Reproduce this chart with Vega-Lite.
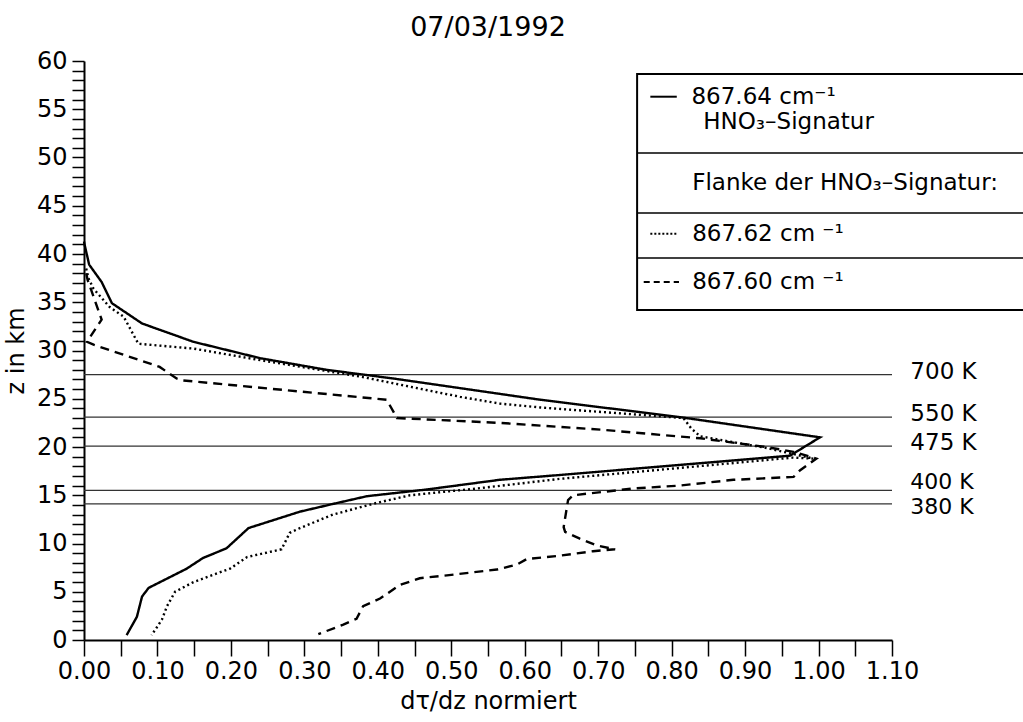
{
  "$schema": "https://vega.github.io/schema/vega-lite/v6.json",
  "width": 808,
  "height": 579,
  "autosize": {"type": "none"},
  "padding": {"left": 84, "top": 61, "right": 131, "bottom": 82},
  "background": "white",
  "title": {"text": "07/03/1992", "font": "DejaVu Sans", "fontSize": 27, "fontWeight": "normal", "color": "black", "offset": 7, "anchor": "middle"},
  "config": {
    "view": {"stroke": null},
    "font": "DejaVu Sans",
    "axis": {"grid": false, "domainColor": "black", "domainWidth": 2, "tickColor": "black", "tickWidth": 1.5, "labelColor": "black", "labelFont": "DejaVu Sans", "labelFontSize": 24, "titleFont": "DejaVu Sans", "titleFontSize": 24, "titleFontWeight": "normal", "titleColor": "black", "labelOverlap": false, "labelFlush": false}
  },
  "datasets": {
    "profiles": [
      {"series": "867.64", "v": 0.000, "z": 41.3},
      {"series": "867.64", "v": 0.001, "z": 40.9},
      {"series": "867.64", "v": 0.007, "z": 38.9},
      {"series": "867.64", "v": 0.024, "z": 37.1},
      {"series": "867.64", "v": 0.038, "z": 34.9},
      {"series": "867.64", "v": 0.079, "z": 32.8},
      {"series": "867.64", "v": 0.149, "z": 30.9},
      {"series": "867.64", "v": 0.240, "z": 29.2},
      {"series": "867.64", "v": 0.330, "z": 28.0},
      {"series": "867.64", "v": 0.421, "z": 27.1},
      {"series": "867.64", "v": 0.512, "z": 26.1},
      {"series": "867.64", "v": 0.621, "z": 24.9},
      {"series": "867.64", "v": 0.811, "z": 23.1},
      {"series": "867.64", "v": 1.002, "z": 21.0},
      {"series": "867.64", "v": 0.961, "z": 19.1},
      {"series": "867.64", "v": 0.648, "z": 17.1},
      {"series": "867.64", "v": 0.566, "z": 16.6},
      {"series": "867.64", "v": 0.467, "z": 15.6},
      {"series": "867.64", "v": 0.385, "z": 14.9},
      {"series": "867.64", "v": 0.339, "z": 14.1},
      {"series": "867.64", "v": 0.294, "z": 13.3},
      {"series": "867.64", "v": 0.224, "z": 11.6},
      {"series": "867.64", "v": 0.194, "z": 9.5},
      {"series": "867.64", "v": 0.162, "z": 8.5},
      {"series": "867.64", "v": 0.140, "z": 7.4},
      {"series": "867.64", "v": 0.088, "z": 5.4},
      {"series": "867.64", "v": 0.079, "z": 4.5},
      {"series": "867.64", "v": 0.072, "z": 2.4},
      {"series": "867.64", "v": 0.058, "z": 0.5},
      {"series": "867.62", "v": 0.003, "z": 38.5},
      {"series": "867.62", "v": 0.006, "z": 37.5},
      {"series": "867.62", "v": 0.013, "z": 36.4},
      {"series": "867.62", "v": 0.035, "z": 34.5},
      {"series": "867.62", "v": 0.054, "z": 33.5},
      {"series": "867.62", "v": 0.074, "z": 30.7},
      {"series": "867.62", "v": 0.149, "z": 30.2},
      {"series": "867.62", "v": 0.240, "z": 29.0},
      {"series": "867.62", "v": 0.376, "z": 27.3},
      {"series": "867.62", "v": 0.512, "z": 25.2},
      {"series": "867.62", "v": 0.566, "z": 24.5},
      {"series": "867.62", "v": 0.621, "z": 24.1},
      {"series": "867.62", "v": 0.816, "z": 23.0},
      {"series": "867.62", "v": 0.827, "z": 21.9},
      {"series": "867.62", "v": 0.839, "z": 21.1},
      {"series": "867.62", "v": 0.929, "z": 19.9},
      {"series": "867.62", "v": 0.993, "z": 18.8},
      {"series": "867.62", "v": 0.965, "z": 18.9},
      {"series": "867.62", "v": 0.648, "z": 16.7},
      {"series": "867.62", "v": 0.535, "z": 15.7},
      {"series": "867.62", "v": 0.444, "z": 15.0},
      {"series": "867.62", "v": 0.398, "z": 14.2},
      {"series": "867.62", "v": 0.339, "z": 13.0},
      {"series": "867.62", "v": 0.294, "z": 11.6},
      {"series": "867.62", "v": 0.280, "z": 11.1},
      {"series": "867.62", "v": 0.269, "z": 9.4},
      {"series": "867.62", "v": 0.222, "z": 8.6},
      {"series": "867.62", "v": 0.199, "z": 7.4},
      {"series": "867.62", "v": 0.149, "z": 6.0},
      {"series": "867.62", "v": 0.124, "z": 5.0},
      {"series": "867.62", "v": 0.113, "z": 3.5},
      {"series": "867.62", "v": 0.106, "z": 2.1},
      {"series": "867.62", "v": 0.092, "z": 0.5},
      {"series": "867.60", "v": 0.003, "z": 38.0},
      {"series": "867.60", "v": 0.005, "z": 37.3},
      {"series": "867.60", "v": 0.024, "z": 33.2},
      {"series": "867.60", "v": 0.004, "z": 30.9},
      {"series": "867.60", "v": 0.013, "z": 30.6},
      {"series": "867.60", "v": 0.103, "z": 28.3},
      {"series": "867.60", "v": 0.126, "z": 27.1},
      {"series": "867.60", "v": 0.135, "z": 26.9},
      {"series": "867.60", "v": 0.412, "z": 24.9},
      {"series": "867.60", "v": 0.421, "z": 23.7},
      {"series": "867.60", "v": 0.426, "z": 23.0},
      {"series": "867.60", "v": 0.566, "z": 22.5},
      {"series": "867.60", "v": 0.703, "z": 21.8},
      {"series": "867.60", "v": 0.839, "z": 20.9},
      {"series": "867.60", "v": 0.929, "z": 20.0},
      {"series": "867.60", "v": 0.966, "z": 19.5},
      {"series": "867.60", "v": 0.997, "z": 18.8},
      {"series": "867.60", "v": 0.975, "z": 17.6},
      {"series": "867.60", "v": 0.966, "z": 16.9},
      {"series": "867.60", "v": 0.884, "z": 16.6},
      {"series": "867.60", "v": 0.811, "z": 16.0},
      {"series": "867.60", "v": 0.748, "z": 15.7},
      {"series": "867.60", "v": 0.666, "z": 15.0},
      {"series": "867.60", "v": 0.659, "z": 14.5},
      {"series": "867.60", "v": 0.653, "z": 11.7},
      {"series": "867.60", "v": 0.655, "z": 11.2},
      {"series": "867.60", "v": 0.675, "z": 10.5},
      {"series": "867.60", "v": 0.698, "z": 9.8},
      {"series": "867.60", "v": 0.723, "z": 9.4},
      {"series": "867.60", "v": 0.693, "z": 9.2},
      {"series": "867.60", "v": 0.644, "z": 8.7},
      {"series": "867.60", "v": 0.603, "z": 8.4},
      {"series": "867.60", "v": 0.589, "z": 7.8},
      {"series": "867.60", "v": 0.562, "z": 7.3},
      {"series": "867.60", "v": 0.494, "z": 6.7},
      {"series": "867.60", "v": 0.457, "z": 6.4},
      {"series": "867.60", "v": 0.430, "z": 5.7},
      {"series": "867.60", "v": 0.403, "z": 4.3},
      {"series": "867.60", "v": 0.380, "z": 3.5},
      {"series": "867.60", "v": 0.371, "z": 2.2},
      {"series": "867.60", "v": 0.353, "z": 1.6},
      {"series": "867.60", "v": 0.319, "z": 0.6}
    ],
    "levels": [
      {"level": "700 K", "z": 27.5},
      {"level": "550 K", "z": 23.1},
      {"level": "475 K", "z": 20.1},
      {"level": "400 K", "z": 15.5},
      {"level": "380 K", "z": 14.1}
    ]
  },
  "layer": [
    {
      "data": {"name": "levels"},
      "mark": {"type": "rule", "color": "#333333", "strokeWidth": 1.2},
      "encoding": {
        "y": {"field": "z", "type": "quantitative", "scale": {"domain": [0, 60], "nice": false, "zero": false},
          "axis": {"title": "z in km", "values": [0,1,2,3,4,5,6,7,8,9,10,11,12,13,14,15,16,17,18,19,20,21,22,23,24,25,26,27,28,29,30,31,32,33,34,35,36,37,38,39,40,41,42,43,44,45,46,47,48,49,50,51,52,53,54,55,56,57,58,59,60],
            "tickCount": 200,
            "labelExpr": "datum.value % 5 === 0 ? format(datum.value, 'd') : ''",
            "labelOverlap": false,
            "tickSize": 12,
            "encode": {"ticks": {"update": {"x2": {"signal": "datum.value % 5 === 0 ? -12 : -5"}}}},
            "labelPadding": 5, "titlePadding": 8}},
        "x": {"datum": 0, "type": "quantitative", "scale": {"domain": [0, 1.1], "nice": false, "zero": false},
          "axis": {"title": "dτ/dz normiert", "values": [0,0.05,0.1,0.15,0.2,0.25,0.3,0.35,0.4,0.45,0.5,0.55,0.6,0.65,0.7,0.75,0.8,0.85,0.9,0.95,1.0,1.05,1.1],
            "tickCount": 200,
            "labelExpr": "round(datum.value*100) % 10 === 0 ? format(datum.value, '.2f') : ''",
            "labelOverlap": false,
            "tickSize": 16,
            "encode": {"ticks": {"update": {"y2": {"signal": "round(datum.value*100) % 10 === 0 ? 16 : 9"}}}},
            "labelPadding": 3, "titlePadding": 6}},
        "x2": {"datum": 1.1}
      }
    },
    {
      "data": {"name": "profiles"},
      "mark": {"type": "line", "color": "black", "strokeWidth": 2.4},
      "encoding": {
        "x": {"field": "v", "type": "quantitative"},
        "y": {"field": "z", "type": "quantitative"},
        "detail": {"field": "series"},
        "strokeDash": {"field": "series", "type": "nominal", "scale": {"domain": ["867.64", "867.62", "867.60"], "range": [[1, 0], [2, 3], [9, 6]]}, "legend": null},
        "order": {"value": null}
      }
    },
    {
      "data": {"name": "levels"},
      "transform": [{"filter": "datum.level !== '400 K' && datum.level !== '380 K'"}],
      "mark": {"type": "text", "align": "left", "baseline": "middle", "dy": -3, "fontSize": 23, "color": "black"},
      "encoding": {
        "y": {"field": "z", "type": "quantitative"},
        "x": {"datum": 1.125},
        "text": {"field": "level"}
      }
    },
    {
      "data": {"name": "levels"},
      "transform": [{"filter": "datum.level === '400 K'"}],
      "mark": {"type": "text", "align": "left", "baseline": "middle", "dy": -8, "fontSize": 22, "color": "black"},
      "encoding": {
        "y": {"field": "z", "type": "quantitative"},
        "x": {"datum": 1.125},
        "text": {"field": "level"}
      }
    },
    {
      "data": {"name": "levels"},
      "transform": [{"filter": "datum.level === '380 K'"}],
      "mark": {"type": "text", "align": "left", "baseline": "middle", "dy": 3, "fontSize": 22, "color": "black"},
      "encoding": {
        "y": {"field": "z", "type": "quantitative"},
        "x": {"datum": 1.125},
        "text": {"field": "level"}
      }
    },
    {
      "data": {"values": [{}]},
      "mark": {"type": "rect", "fill": "white", "stroke": "black", "strokeWidth": 2},
      "encoding": {"x": {"datum": 0.753}, "x2": {"datum": 1.3}, "y": {"datum": 58.65}, "y2": {"datum": 34.2}}
    },
    {
      "data": {"values": [{}]},
      "mark": {"type": "rule", "color": "black", "strokeWidth": 1.5},
      "encoding": {"x": {"datum": 0.753}, "x2": {"datum": 1.3}, "y": {"datum": 50.47}}
    },
    {
      "data": {"values": [{}]},
      "mark": {"type": "rule", "color": "black", "strokeWidth": 1.5},
      "encoding": {"x": {"datum": 0.753}, "x2": {"datum": 1.3}, "y": {"datum": 44.25}}
    },
    {
      "data": {"values": [{}]},
      "mark": {"type": "rule", "color": "black", "strokeWidth": 1.5},
      "encoding": {"x": {"datum": 0.753}, "x2": {"datum": 1.3}, "y": {"datum": 39.59}}
    },
    {
      "data": {"values": [{}]},
      "mark": {"type": "rule", "color": "black", "strokeWidth": 2},
      "encoding": {"x": {"datum": 0.771}, "x2": {"datum": 0.807}, "y": {"datum": 56.3}}
    },
    {
      "data": {"values": [{}]},
      "mark": {"type": "rule", "color": "black", "strokeWidth": 2, "strokeDash": [2, 2]},
      "encoding": {"x": {"datum": 0.771}, "x2": {"datum": 0.809}, "y": {"datum": 42.1}}
    },
    {
      "data": {"values": [{}]},
      "mark": {"type": "rule", "color": "black", "strokeWidth": 2, "strokeDash": [6, 4]},
      "encoding": {"x": {"datum": 0.762}, "x2": {"datum": 0.81}, "y": {"datum": 37.1}}
    },
    {
      "data": {"values": [{}]},
      "mark": {"type": "text", "align": "left", "baseline": "middle", "fontSize": 23, "color": "black", "text": "867.64 cm⁻¹"},
      "encoding": {"x": {"datum": 0.827}, "y": {"datum": 56.3}}
    },
    {
      "data": {"values": [{}]},
      "mark": {"type": "text", "align": "left", "baseline": "middle", "fontSize": 23, "color": "black", "text": "HNO₃–Signatur"},
      "encoding": {"x": {"datum": 0.843}, "y": {"datum": 53.7}}
    },
    {
      "data": {"values": [{}]},
      "mark": {"type": "text", "align": "left", "baseline": "middle", "fontSize": 23, "color": "black", "text": "Flanke der HNO₃–Signatur:"},
      "encoding": {"x": {"datum": 0.828}, "y": {"datum": 47.4}}
    },
    {
      "data": {"values": [{}]},
      "mark": {"type": "text", "align": "left", "baseline": "middle", "fontSize": 23, "color": "black", "text": "867.62 cm ⁻¹"},
      "encoding": {"x": {"datum": 0.828}, "y": {"datum": 42.1}}
    },
    {
      "data": {"values": [{}]},
      "mark": {"type": "text", "align": "left", "baseline": "middle", "fontSize": 23, "color": "black", "text": "867.60 cm ⁻¹"},
      "encoding": {"x": {"datum": 0.828}, "y": {"datum": 37.1}}
    }
  ]
}
